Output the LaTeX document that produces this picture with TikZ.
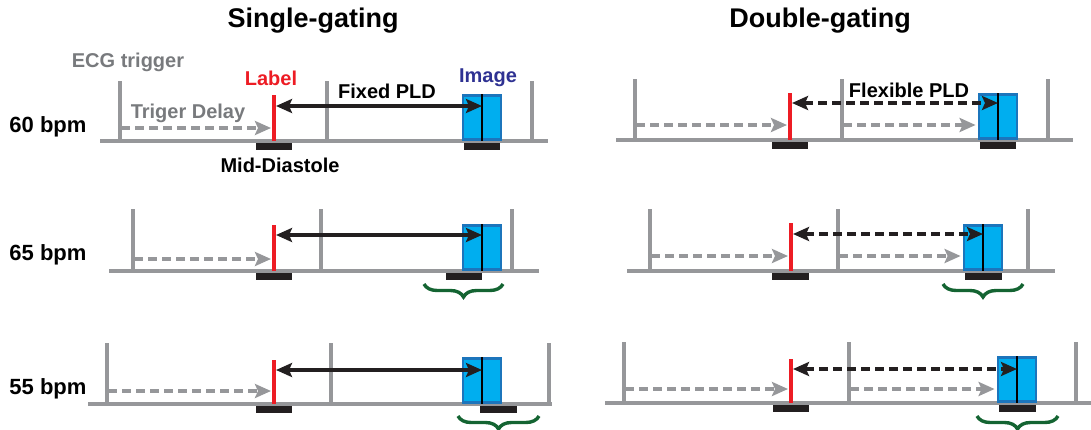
\documentclass[tikz,border=0pt]{standalone}
\usepackage{fontspec}
\setmainfont{Liberation Sans}
\usetikzlibrary{arrows.meta,decorations.pathreplacing}
\definecolor{ecggray}{RGB}{150,151,154}
\definecolor{txtgray}{RGB}{120,122,125}
\definecolor{lblred}{RGB}{237,28,36}
\definecolor{imgcyan}{RGB}{0,174,239}
\definecolor{boxblue}{RGB}{28,117,188}
\definecolor{imgnavy}{RGB}{46,49,146}
\definecolor{barblack}{RGB}{35,31,32}
\definecolor{bracegreen}{RGB}{20,100,50}
\begin{document}
\begin{tikzpicture}[x=0.5pt, y=-0.5pt,
	ecgline/.style={draw=ecggray, line width=1.7pt},
	pulse/.style={draw=lblred, line width=2.2pt},
	imgbox/.style={rectangle, draw=boxblue, fill=imgcyan, line width=1.4pt, minimum width=19pt, minimum height=22pt, inner sep=0pt, anchor=south},
	readout/.style={draw=black, line width=0.8pt},
	acqbar/.style={fill=barblack},
	delay/.style={draw=ecggray, line width=1.6pt, dash pattern=on 4.5pt off 2.5pt, -{Stealth[length=8pt, width=7pt, inset=1.5pt]}},
	pld/.style={draw=barblack, line width=1.6pt, {Stealth[length=8pt, width=7pt, inset=1.5pt]}-{Stealth[length=8pt, width=7pt, inset=1.5pt]}},
	flexpld/.style={pld, dash pattern=on 4.5pt off 2.5pt},
	window/.style={draw=bracegreen, line width=1.7pt, decorate, decoration={brace, mirror, amplitude=6.5pt}},
	title/.style={font=\fontsize{13.5}{16}\selectfont\bfseries},
	rate/.style={font=\fontsize{11}{13}\selectfont\bfseries},
	tag/.style={font=\fontsize{10}{12}\selectfont\bfseries}]
	\useasboundingbox (0,0) rectangle (1091,429);

	\node (single) [title] at (313,21) {Single-gating};
	\node (double) [title] at (820,21) {Double-gating};
	\node (ecg) [tag, text=txtgray] at (128,62) {ECG trigger};
	\node (rateA) [rate] at (48,127) {60 bpm};
	\node (rateB) [rate] at (48,255) {65 bpm};
	\node (rateC) [rate] at (48,389) {55 bpm};

	% 60 bpm, single-gating
	\draw[ecgline] (100,141) -- (548,141);
	\foreach \t in {120,327,532} \draw[ecgline] (\t,141) -- (\t,81);
	\draw[pulse] (274,141) -- (274,95);
	\node (imgA) [imgbox] at (482,141) {};
	\draw[readout] (imgA.north) -- (imgA.south);
	\fill[acqbar] (256,143) rectangle (292,150);
	\fill[acqbar] (464,143) rectangle (500,150);
	\coordinate (labA) at (276,106);
	\coordinate (trgA) at (121,128);
	\draw[pld] (labA) -- (labA -| imgA);
	\draw[delay] (trgA) -- (271,128);
	\node (label) [tag, text=lblred] at (271,78) {Label};
	\node (image) [tag, text=imgnavy] at (488,78) {Image};
	\node (fixed) [tag] at (387,91) {Fixed PLD};
	\node (trdelay) [tag, text=txtgray] at (188,113) {Triger Delay};
	\node (middia) [tag] at (280,165) {Mid-Diastole};

	% 65 bpm, single-gating
	\draw[ecgline] (109,271) -- (539,271);
	\foreach \t in {133,321,512} \draw[ecgline] (\t,271) -- (\t,209);
	\draw[pulse] (274,271) -- (274,225);
	\node (imgB) [imgbox] at (482,271) {};
	\draw[readout] (imgB.north) -- (imgB.south);
	\fill[acqbar] (256,273) rectangle (292,280);
	\fill[acqbar] (446,273) rectangle (482,280);
	\coordinate (labB) at (276,235);
	\coordinate (trgB) at (134,259);
	\draw[pld] (labB) -- (labB -| imgB);
	\draw[delay] (trgB) -- (271,259);
	\draw[window] (424,284) -- (503,284);

	% 55 bpm, single-gating
	\draw[ecgline] (88,404) -- (552,404);
	\foreach \t in {107,331,549} \draw[ecgline] (\t,404) -- (\t,343);
	\draw[pulse] (274,404) -- (274,360);
	\node (imgC) [imgbox] at (482,404) {};
	\draw[readout] (imgC.north) -- (imgC.south);
	\fill[acqbar] (256,406) rectangle (292,413);
	\fill[acqbar] (480,406) rectangle (517,413);
	\coordinate (labC) at (276,370);
	\coordinate (trgC) at (108,391);
	\draw[pld] (labC) -- (labC -| imgC);
	\draw[delay] (trgC) -- (271,391);
	\draw[window] (458,416) -- (539,416);

	% 60 bpm, double-gating
	\draw[ecgline] (616,140) -- (1073,140);
	\foreach \t in {635,842,1048} \draw[ecgline] (\t,140) -- (\t,79);
	\draw[pulse] (790,140) -- (790,93);
	\node (imgD) [imgbox] at (998,140) {};
	\draw[readout] (imgD.north) -- (imgD.south);
	\fill[acqbar] (772,142) rectangle (808,149);
	\fill[acqbar] (980,142) rectangle (1016,149);
	\coordinate (labD) at (792,103);
	\coordinate (trgD) at (636,125);
	\coordinate (trgDD) at (843,125);
	\draw[flexpld] (labD) -- (labD -| imgD);
	\draw[delay] (trgD) -- (787,125);
	\draw[delay] (trgDD) -- ([xshift=-1pt]trgDD -| imgD.west);
	\node (flex) [tag] at (909,90) {Flexible PLD};

	% 65 bpm, double-gating
	\draw[ecgline] (627,271) -- (1055,271);
	\foreach \t in {650,838,1028} \draw[ecgline] (\t,271) -- (\t,209);
	\draw[pulse] (791,271) -- (791,223);
	\node (imgE) [imgbox] at (983,271) {};
	\draw[readout] (imgE.north) -- (imgE.south);
	\fill[acqbar] (772,273) rectangle (809,280);
	\fill[acqbar] (965,273) rectangle (1002,280);
	\coordinate (labE) at (793,234);
	\coordinate (trgE) at (651,256);
	\coordinate (trgEE) at (839,256);
	\draw[flexpld] (labE) -- (labE -| imgE);
	\draw[delay] (trgE) -- (788,256);
	\draw[delay] (trgEE) -- ([xshift=-1pt]trgEE -| imgE.west);
	\draw[window] (943,284) -- (1023,284);

	% 55 bpm, double-gating
	\draw[ecgline] (605,403) -- (1091,403);
	\foreach \t in {624,849,1076} \draw[ecgline] (\t,403) -- (\t,342);
	\draw[pulse] (791,403) -- (791,359);
	\node (imgF) [imgbox] at (1017,403) {};
	\draw[readout] (imgF.north) -- (imgF.south);
	\fill[acqbar] (773,405) rectangle (809,412);
	\fill[acqbar] (999,405) rectangle (1036,412);
	\coordinate (labF) at (793,369);
	\coordinate (trgF) at (625,389);
	\coordinate (trgFF) at (850,389);
	\draw[flexpld] (labF) -- (labF -| imgF);
	\draw[delay] (trgF) -- (788,389);
	\draw[delay] (trgFF) -- ([xshift=-1pt]trgFF -| imgF.west);
	\draw[window] (977,416) -- (1058,416);
\end{tikzpicture}
\end{document}
